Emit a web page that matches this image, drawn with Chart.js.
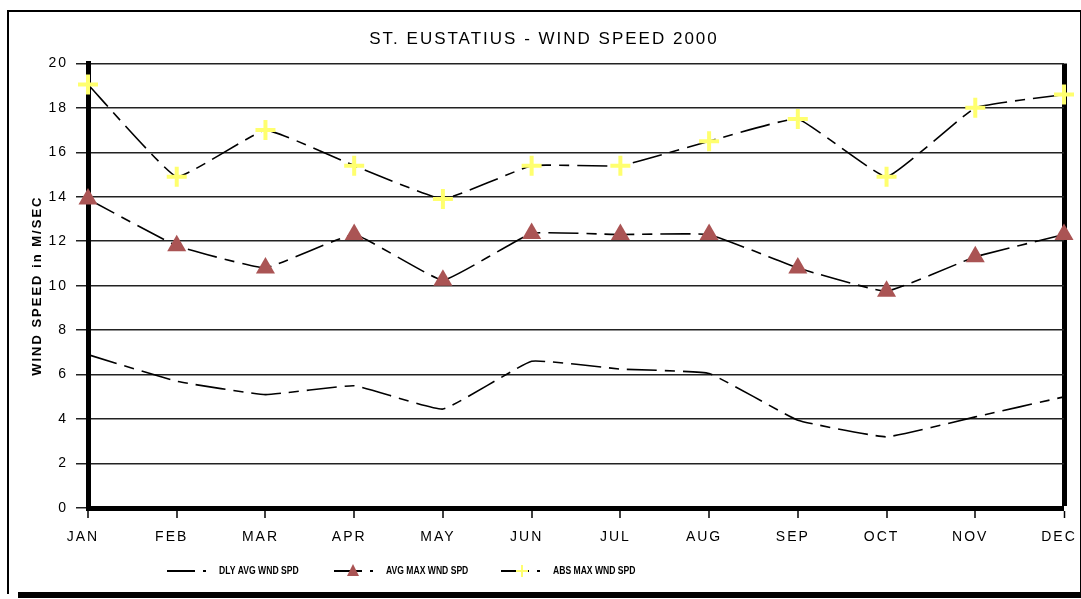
<!DOCTYPE html>
<html>
<head>
<meta charset="utf-8">
<script src="https://cdn.jsdelivr.net/npm/chart.js@4.4.1/dist/chart.umd.min.js"></script>
<style>
    html, body { margin: 0; padding: 0; background: #fff; overflow: hidden; }
    #wrap { position: relative; width: 1081px; height: 599px; }
    #frame { position: absolute; left: 7px; top: 10px; width: 1071px; height: 582px;
             border: 2px solid #000; border-bottom: none; pointer-events: none; }
    #base { position: absolute; left: 18px; top: 592px; width: 1063px; height: 6px; background: #000; }
    canvas { position: absolute; left: 0; top: 0; }
</style>
</head>
<body>
<div id="wrap">
    <canvas id="windChart" width="1081" height="599"></canvas>
    <div id="frame"></div>
    <div id="base"></div>
</div>
<script>
const months = ['JAN', 'FEB', 'MAR', 'APR', 'MAY', 'JUN', 'JUL', 'AUG', 'SEP', 'OCT', 'NOV', 'DEC'];
const dlyAvg = [6.9, 5.7, 5.1, 5.5, 4.45, 6.6, 6.25, 6.05, 3.95, 3.2, 4.1, 5.0];
const avgMax = [13.9, 11.8, 10.8, 12.3, 10.25, 12.35, 12.3, 12.3, 10.8, 9.75, 11.3, 12.3];
const absMax = [19.05, 14.9, 17.0, 15.4, 13.9, 15.4, 15.4, 16.5, 17.5, 14.9, 18.0, 18.6];
const seriesNames = ['DLY AVG WND SPD', 'AVG MAX WND SPD', 'ABS MAX WND SPD'];

const dash = [30, 8, 10, 8];
const triColor = 'rgb(170, 84, 84)';
const plusColor = 'rgb(255, 255, 110)';
const fontFamily = '"Liberation Sans", Arial, sans-serif';

// the old chart text is spread out; canvas state is reset on resize so set it per draw
const spacingPlugin = {
    id: 'wideText',
    beforeDraw(chart) {
        chart.ctx.letterSpacing = '2px';
    }
};

// legend drawn by hand: line sample with marker, a short dash, then the label
const legendPlugin = {
    id: 'bottomLegend',
    afterDraw(chart) {
        const ctx = chart.ctx;
        const y = chart.chartArea.bottom + 63;
        const starts = [167, 334, 501];
        ctx.save();
        ctx.letterSpacing = '0px';
        chart.data.datasets.forEach((ds, i) => {
            const x = starts[i];
            ctx.strokeStyle = '#000';
            ctx.lineWidth = 2;
            ctx.setLineDash([]);
            ctx.beginPath();
            ctx.moveTo(x, y);
            ctx.lineTo(x + 28, y);
            ctx.moveTo(x + 36, y);
            ctx.lineTo(x + 39, y);
            ctx.stroke();
            if (ds.pointStyle === 'triangle') {
                ctx.fillStyle = ds.pointBackgroundColor;
                ctx.beginPath();
                ctx.moveTo(x + 19, y - 7);
                ctx.lineTo(x + 25, y + 5);
                ctx.lineTo(x + 13, y + 5);
                ctx.closePath();
                ctx.fill();
            } else if (ds.pointStyle === 'cross') {
                ctx.strokeStyle = ds.pointBorderColor;
                ctx.lineWidth = 2;
                ctx.beginPath();
                ctx.moveTo(x + 21, y - 6);
                ctx.lineTo(x + 21, y + 6);
                ctx.moveTo(x + 15, y);
                ctx.lineTo(x + 27, y);
                ctx.stroke();
            }
            ctx.save();
            ctx.translate(x + 52, y);
            ctx.scale(0.78, 1);
            ctx.fillStyle = '#000';
            ctx.font = 'bold 11px ' + fontFamily;
            ctx.textBaseline = 'middle';
            ctx.textAlign = 'left';
            ctx.fillText(ds.label, 0, 0);
            ctx.restore();
        });
        ctx.restore();
    }
};

const ctx = document.getElementById('windChart').getContext('2d');
const windChart = new Chart(ctx, {
    type: 'line',
    data: {
        labels: months,
        datasets: [{
            label: seriesNames[0],
            data: dlyAvg,
            borderColor: '#000',
            borderWidth: 1.6,
            borderDash: dash,
            pointStyle: false,
            pointRadius: 0,
            tension: 0.1
        },
        {
            label: seriesNames[1],
            data: avgMax,
            borderColor: '#000',
            borderWidth: 1.6,
            borderDash: dash,
            pointStyle: 'triangle',
            pointRadius: 11,
            pointBackgroundColor: triColor,
            pointBorderColor: triColor,
            pointBorderWidth: 0,
            tension: 0.1
        },
        {
            label: seriesNames[2],
            data: absMax,
            borderColor: '#000',
            borderWidth: 1.6,
            borderDash: dash,
            pointStyle: 'cross',
            pointRadius: 10,
            pointBackgroundColor: plusColor,
            pointBorderColor: plusColor,
            pointBorderWidth: 4,
            tension: 0.1
        }]
    },
    options: {
        responsive: false,
        animation: false,
        layout: {
            padding: { left: 7, right: 0, top: 0, bottom: 0 }
        },
        plugins: {
            legend: { display: false },
            tooltip: { enabled: false },
            title: {
                display: true,
                text: 'ST. EUSTATIUS - WIND SPEED 2000',
                color: '#000',
                font: { family: fontFamily, size: 17, weight: 'normal' },
                padding: { top: 29, bottom: 14 }
            }
        },
        scales: {
            x: {
                offset: false,
                grid: {
                    drawOnChartArea: true,
                    drawTicks: true,
                    tickLength: 10,
                    // only the last category line shows, as the heavy right frame
                    color: (c) => c.index === months.length - 1 ? '#000' : 'rgba(0,0,0,0)',
                    lineWidth: (c) => c.index === months.length - 1 ? 5 : 0,
                    tickColor: '#000',
                    tickWidth: 1.5
                },
                border: { display: true, color: '#000', width: 5 },
                ticks: {
                    color: '#000',
                    padding: 11,
                    labelOffset: -5,
                    maxRotation: 0,
                    autoSkip: false,
                    font: { family: fontFamily, size: 14 }
                },
                afterFit: function (scale) {
                    scale.height = 91;
                    scale.paddingLeft = 0;
                    scale.paddingRight = 0;
                }
            },
            y: {
                min: 0,
                max: 20,
                ticks: {
                    stepSize: 2,
                    color: '#000',
                    padding: 8,
                    font: { family: fontFamily, size: 14 }
                },
                grid: {
                    color: '#222',
                    lineWidth: 1.5,
                    drawTicks: true,
                    tickLength: 12
                },
                border: { display: true, color: '#000', width: 5 },
                title: {
                    display: true,
                    text: 'WIND SPEED in M/SEC',
                    color: '#000',
                    font: { family: fontFamily, size: 13, weight: 'bold' },
                    padding: { top: 23, bottom: 0 }
                },
                afterFit: function (scale) { scale.width = 81; }
            },
            // empty right axis, only reserves the gap right of the plot
            y2: {
                position: 'right',
                min: 0,
                max: 20,
                ticks: { display: false },
                grid: { drawOnChartArea: false, drawTicks: false },
                border: { display: false },
                afterFit: function (scale) { scale.width = 17; }
            }
        }
    },
    plugins: [spacingPlugin, legendPlugin]
});
</script>
</body>
</html>
